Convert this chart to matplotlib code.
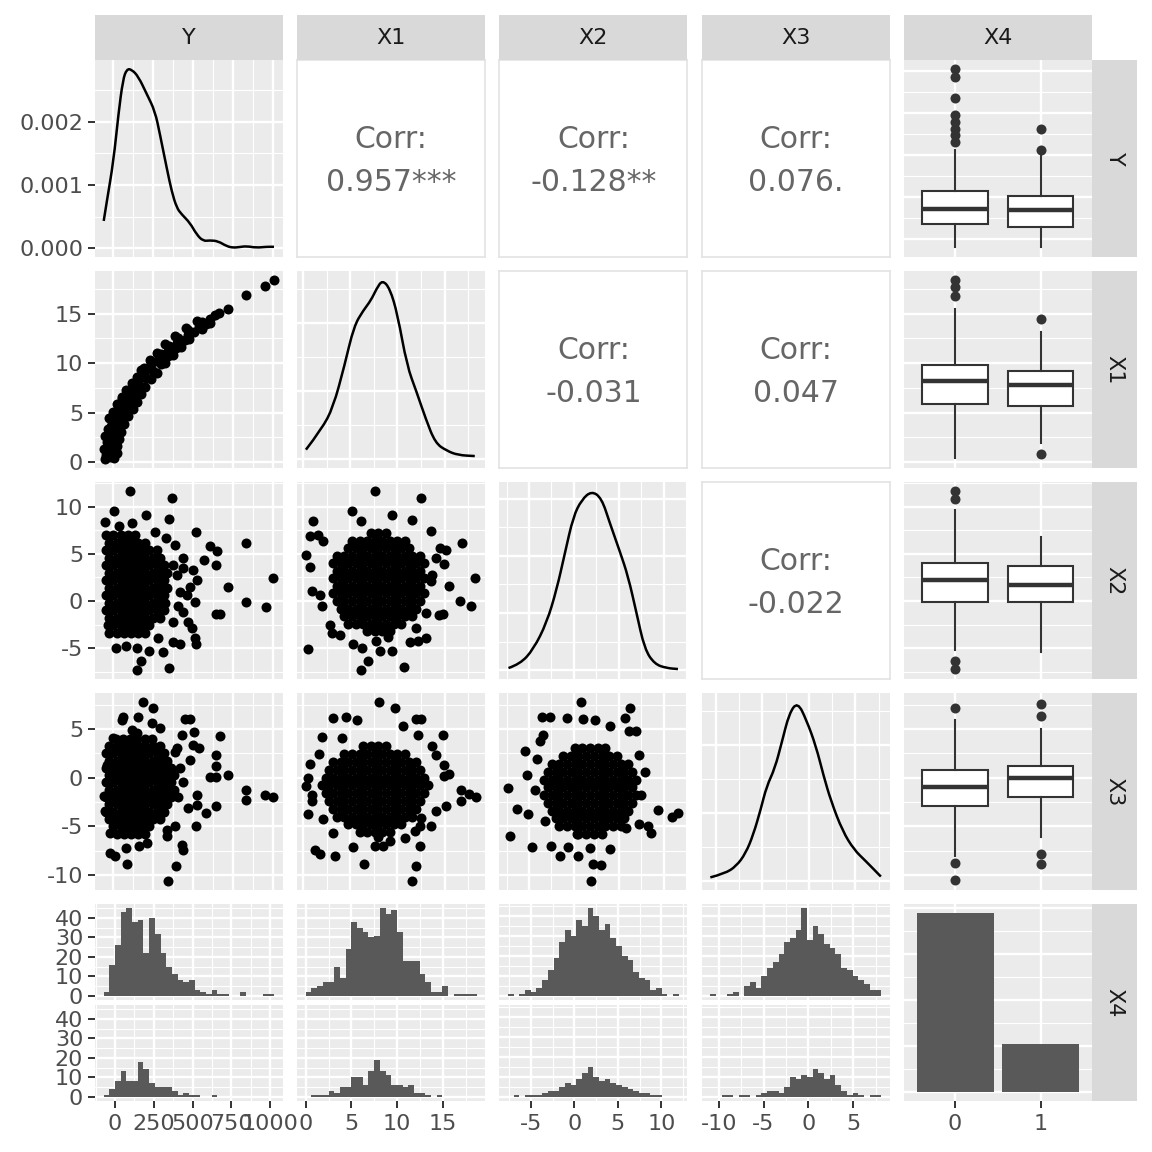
# ggpairs-style scatterplot matrix of Y, X1, X2, X3 and the factor X4
import matplotlib
matplotlib.use('Agg')
import matplotlib.pyplot as plt
from matplotlib.ticker import MultipleLocator, FixedLocator, FuncFormatter, NullLocator
from matplotlib.path import Path
from matplotlib.patches import PathPatch

plt.rcParams['font.family'] = ['DejaVu Sans']
plt.rcParams['axes.unicode_minus'] = False

# ---------------------------------------------------------------- data
var_names = ['Y', 'X1', 'X2', 'X3', 'X4']
var_lo = {'Y': -56, 'X1': 0.3, 'X2': -7.34, 'X3': -10.63}
var_hi = {'Y': 1010, 'X1': 18.4, 'X2': 11.7, 'X3': 7.77}

corr_text = {(0, 1): '0.957***', (0, 2): '-0.128**', (0, 3): '0.076.',
             (1, 2): '-0.031', (1, 3): '0.047', (2, 3): '-0.022'}

# density curves on the diagonal
dens_Y_x = [-55, -35, 6, 37, 65, 89, 120, 161, 214, 265, 296, 338, 369, 400, 431,
            483, 524, 565, 607, 658, 711, 752, 793, 835, 897, 959, 1007]
dens_Y_d = [0.00043, 0.00075, 0.00138, 0.00213, 0.00267, 0.00284, 0.00283, 0.00272,
            0.00244, 0.00217, 0.0018, 0.00127, 0.0009, 0.00064, 0.000535, 0.0004,
            0.000217, 0.00011, 0.000122, 0.00011, 0.00003, 0.000005, 0.000016,
            0.00003, 0.000005, 0.00002, 0.00002]
dens_X1_x = [0.32, 1.99, 3.2, 4.4, 5.4, 6.4, 7.2, 7.8, 8.42, 9.22, 10.02, 11.02,
             12.02, 13.02, 14.02, 15.23, 16.43, 18.2]
dens_X1_d = [0.0069, 0.0221, 0.0381, 0.0688, 0.0979, 0.1096, 0.1169, 0.1256, 0.132,
             0.1256, 0.1066, 0.0688, 0.0498, 0.0294, 0.0118, 0.0061, 0.0029, 0.0022]
dens_X2_x = [-7.28, -5.98, -4.5, -3.02, -1.91, -0.99, -0.06, 0.87, 1.98, 3.09, 4.01,
             5.12, 6.04, 6.97, 7.89, 9.0, 10.3, 11.6]
dens_X2_d = [0.0014, 0.0042, 0.0146, 0.0332, 0.0565, 0.0821, 0.1076, 0.1193, 0.1255,
             0.1205, 0.103, 0.0832, 0.0658, 0.0403, 0.0146, 0.0042, 0.0014, 0.0007]
dens_X3_x = [-10.61, -9.06, -7.83, -6.81, -5.99, -5.17, -4.56, -3.66, -2.92, -2.1,
             -1.21, -0.26, 0.76, 1.58, 2.4, 3.63, 4.86, 6.08, 7.75]
dens_X3_d = [0.0027, 0.0055, 0.0109, 0.0204, 0.0341, 0.0532, 0.0696, 0.0831, 0.1022,
             0.124, 0.132, 0.1186, 0.0995, 0.0776, 0.0586, 0.0368, 0.0231, 0.015, 0.0033]

# histogram counts (30 bins) for X4 = 0 and X4 = 1
hist_Y_0 = [2, 16, 26, 43, 45, 38, 39, 22, 40, 32, 22, 15, 11, 8, 7, 8, 3, 2, 1, 3,
            1, 1, 0, 0, 2, 0, 0, 0, 1, 1]
hist_Y_1 = [1, 4, 8, 13, 8, 8, 18, 14, 7, 5, 5, 5, 3, 1, 2, 1, 1, 0, 0, 1,
            0, 0, 0, 0, 0, 0, 0, 0, 0, 0]
hist_X1_0 = [2, 4, 5, 7, 7, 15, 9, 24, 38, 35, 33, 30, 31, 45, 42, 44, 33, 18, 18, 18,
             11, 7, 2, 2, 5, 0, 1, 1, 1, 1]
hist_X1_1 = [0, 1, 1, 1, 3, 2, 5, 5, 10, 10, 6, 13, 19, 13, 11, 6, 6, 5, 6, 2,
             2, 1, 0, 1, 0, 0, 0, 0, 0, 0]
hist_X2_0 = [1, 0, 1, 3, 2, 4, 8, 13, 19, 27, 33, 30, 38, 35, 44, 40, 33, 36, 29, 25,
             20, 18, 12, 9, 8, 3, 4, 1, 0, 1]
hist_X2_1 = [0, 1, 0, 1, 1, 1, 2, 3, 3, 5, 7, 6, 9, 12, 15, 10, 8, 9, 7, 6,
             5, 4, 3, 2, 2, 1, 1, 0, 0, 0]
hist_X3_0 = [1, 0, 0, 1, 2, 0, 5, 7, 4, 10, 14, 17, 21, 27, 29, 33, 44, 28, 35, 31,
             26, 24, 21, 14, 13, 10, 8, 6, 3, 3]
hist_X3_1 = [0, 0, 1, 1, 0, 1, 1, 0, 1, 2, 3, 3, 2, 5, 10, 9, 11, 10, 14, 12,
             9, 11, 6, 3, 1, 2, 1, 0, 1, 1]

# X4 bar chart
x4_levels = ['0', '1']
x4_counts = [389, 105]

# boxplots of each variable by X4: [X4=0, X4=1]
box_lo = {'Y': [-47, -51], 'X1': [0.37, 1.88], 'X2': [-5.2, -5.43], 'X3': [-8.08, -6.14]}
box_q1 = {'Y': [86, 72], 'X1': [5.9, 5.66], 'X2': [-0.11, -0.11], 'X3': [-2.88, -1.96]}
box_med = {'Y': [175, 171], 'X1': [8.14, 7.81], 'X2': [2.23, 1.7], 'X3': [-0.94, -0.02]}
box_q3 = {'Y': [285, 254], 'X1': [9.85, 9.18], 'X2': [4.03, 3.7], 'X3': [0.8, 1.2]}
box_hi = {'Y': [526, 491], 'X1': [15.45, 13.1], 'X2': [9.67, 6.8], 'X3': [5.9, 4.98]}
box_out = {'Y': [[575, 615, 655, 694, 734, 839, 961, 1010], [526, 655]],
           'X1': [[16.8, 17.7, 18.4], [0.78, 14.45]],
           'X2': [[10.8, 11.7, -6.4, -7.24], []],
           'X3': [[7.2, -8.8, -10.53], [6.3, 7.6, -7.9, -8.9]]}

# scatter points: (x, y)
pts_Y_X1 = [(-45, 0.3), (-15, 0.5), (-40, 0.7), (-25, 1.0), (5, 1.2), (-40, 1.4),
            (-15, 1.7), (-35, 2.0), (15, 2.1), (-5, 2.4), (-30, 2.7), (20, 2.9),
            (0, 3.2), (35, 3.4), (-10, 3.6), (20, 3.9), (50, 4.1), (0, 4.3),
            (40, 4.6), (75, 4.8), (25, 5.0), (60, 5.3), (100, 5.5), (45, 5.7),
            (80, 6.0), (120, 6.2), (60, 6.4), (100, 6.7), (145, 7.0), (90, 7.1),
            (125, 7.4), (170, 7.7), (130, 7.9), (160, 8.2), (210, 8.5), (150, 8.6),
            (195, 8.9), (250, 9.2), (180, 9.3), (230, 9.6), (300, 9.9), (250, 10.1),
            (290, 10.4), (345, 10.7), (300, 10.9), (345, 11.2), (395, 11.5),
            (350, 11.7), (400, 12.0), (450, 12.3), (410, 12.5), (470, 12.8),
            (510, 13.1), (470, 13.3), (540, 13.6), (580, 13.9), (560, 14.2),
            (610, 14.5), (640, 14.9), (665, 15.1), (720, 15.5), (835, 16.9),
            (948, 17.8), (1010, 18.4),
            (10, 0.4), (30, 0.9), (-55, 1.3), (25, 1.6), (40, 2.3), (-45, 2.6),
            (55, 3.0), (-30, 3.3), (70, 3.8), (-20, 4.4), (95, 4.6), (5, 5.1),
            (125, 5.4), (30, 5.9), (150, 6.1), (60, 6.6), (175, 6.9), (85, 7.3),
            (205, 7.6), (120, 8.0), (240, 8.4), (280, 9.0), (195, 9.5), (330, 10.0),
            (235, 10.3), (375, 10.8), (280, 11.0), (430, 11.6), (330, 11.9),
            (480, 12.4), (390, 12.7), (560, 13.4), (460, 13.5), (610, 14.0),
            (530, 14.3)]

core_Y_X2 = [(7.0, [-40, 5, 50, 95, 140]),
             (6.2, [-20, 25, 70, 115, 160, 205]),
             (5.4, [-40, 5, 50, 95, 140, 185, 230, 275]),
             (4.6, [-20, 25, 70, 115, 160, 205, 250, 295]),
             (3.8, [-40, 5, 50, 95, 140, 185, 230, 275, 320]),
             (3.0, [-20, 25, 70, 115, 160, 205, 250, 295, 340]),
             (2.2, [-40, 5, 50, 95, 140, 185, 230, 275, 320]),
             (1.4, [-20, 25, 70, 115, 160, 205, 250, 295, 340]),
             (0.6, [-40, 5, 50, 95, 140, 185, 230, 275, 320]),
             (-0.2, [-20, 25, 70, 115, 160, 205, 250, 295, 330]),
             (-1.0, [-40, 5, 50, 95, 140, 185, 230, 275, 320]),
             (-1.8, [-20, 25, 70, 115, 160, 205, 250, 295]),
             (-2.6, [-30, 5, 50, 95, 140, 185, 230]),
             (-3.4, [-20, 25, 70, 115, 160, 205])]
out_Y_X2 = [(110, 11.7), (373, 10.9), (11, 9.57), (209, 9.15), (354, 8.72), (-50, 8.44),
            (520, 7.37), (835, 6.14), (611, 5.88), (652, 5.32), (644, 3.83), (570, 4.36),
            (1004, 2.41), (721, 1.46), (835, -0.14), (955, -0.67), (644, -1.42),
            (673, -1.42), (503, 3.3), (524, 2.23), (483, 1.52), (462, 0.64), (514, -0.07),
            (437, -1.14), (472, -2.2), (493, -2.9), (514, -3.97), (520, -4.6), (420, -4.6),
            (375, -4.33), (317, -5.46), (230, -5.32), (152, -5.03), (85, -4.75),
            (23, -5.03), (176, -6.38), (152, -7.34), (354, -7.1), (286, -3.97),
            (379, -2.2), (379, 3.83), (441, 4.54), (389, 5.96), (332, 6.67), (265, 7.37),
            (120, 8.3), (40, 8.0), (400, 2.8), (420, 1.0), (410, -0.5), (440, 3.5)]

core_Y_X3 = [(4.0, [20, 65, 110, 155, 200, 245]),
             (3.25, [-20, 25, 70, 115, 160, 205, 250, 295]),
             (2.5, [-40, 5, 50, 95, 140, 185, 230, 275, 320]),
             (1.75, [-20, 25, 70, 115, 160, 205, 250, 295, 340]),
             (1.0, [-40, 5, 50, 95, 140, 185, 230, 275, 320, 365]),
             (0.25, [-20, 25, 70, 115, 160, 205, 250, 295, 340, 385]),
             (-0.5, [-40, 5, 50, 95, 140, 185, 230, 275, 320, 365]),
             (-1.25, [-20, 25, 70, 115, 160, 205, 250, 295, 340, 385]),
             (-2.0, [-40, 5, 50, 95, 140, 185, 230, 275, 320, 365]),
             (-2.75, [-20, 25, 70, 115, 160, 205, 250, 295, 340]),
             (-3.5, [-40, 5, 50, 95, 140, 185, 230, 275, 320]),
             (-4.25, [-20, 25, 70, 115, 160, 205, 250, 295]),
             (-5.0, [5, 50, 95, 140, 185, 230]),
             (-5.75, [25, 70, 115, 160, 200])]
out_Y_X3 = [(193, 7.77), (255, 7.1), (68, 6.24), (60, 5.9), (161, 6.24), (452, 5.97),
            (483, 5.97), (507, 4.7), (431, 4.37), (673, 4.26), (6, 4.03), (503, 3.34),
            (539, 3.0), (648, 2.32), (389, 2.66), (483, 1.81), (648, 1.2), (721, 0.28),
            (611, 0.04), (644, 0.04), (835, -1.26), (835, -2.35), (948, -1.77),
            (1004, -2.0), (524, -1.77), (524, -2.79), (648, -2.89), (582, -3.64),
            (472, -3.13), (520, -5.0), (389, -5.0), (338, -6.03), (338, -5.35),
            (431, -6.88), (441, -7.39), (396, -9.1), (348, -10.63), (89, -8.93),
            (85, -7.22), (-14, -7.73), (17, -8.08), (168, -7.06), (214, -6.71),
            (-14, -5.69), (-50, -3.48), (-52, -1.94), (-35, 1.3), (-4, 2.66), (296, 5.05),
            (245, 5.56), (152, 4.54), (120, 4.9), (420, 1.0), (440, -0.5), (410, -2.0),
            (400, 3.0)]

core_X1_X2 = [(7.2, [7.2, 8.0, 8.8]),
              (6.4, [5.2, 6.0, 6.8, 7.6, 8.4, 9.2, 10.0, 10.8]),
              (5.6, [4.8, 5.6, 6.4, 7.2, 8.0, 8.8, 9.6, 10.4, 11.2]),
              (4.8, [3.6, 4.4, 5.2, 6.0, 6.8, 7.6, 8.4, 9.2, 10.0, 10.8, 11.6, 12.4]),
              (4.0, [3.2, 4.0, 4.8, 5.6, 6.4, 7.2, 8.0, 8.8, 9.6, 10.4, 11.2, 12.0, 12.8]),
              (3.2, [3.6, 4.4, 5.2, 6.0, 6.8, 7.6, 8.4, 9.2, 10.0, 10.8, 11.6, 12.4]),
              (2.4, [3.2, 4.0, 4.8, 5.6, 6.4, 7.2, 8.0, 8.8, 9.6, 10.4, 11.2, 12.0, 12.8]),
              (1.6, [3.6, 4.4, 5.2, 6.0, 6.8, 7.6, 8.4, 9.2, 10.0, 10.8, 11.6, 12.4]),
              (0.8, [3.2, 4.0, 4.8, 5.6, 6.4, 7.2, 8.0, 8.8, 9.6, 10.4, 11.2, 12.0, 12.8]),
              (0.0, [3.6, 4.4, 5.2, 6.0, 6.8, 7.6, 8.4, 9.2, 10.0, 10.8, 11.6, 12.4]),
              (-0.8, [4.0, 4.8, 5.6, 6.4, 7.2, 8.0, 8.8, 9.6, 10.4, 11.2, 12.0]),
              (-1.6, [4.4, 5.2, 6.0, 6.8, 7.6, 8.4, 9.2, 10.0, 10.8, 11.6]),
              (-2.4, [4.8, 5.6, 6.4, 7.2, 8.0, 8.8, 9.6, 10.4]),
              (-3.2, [6.8, 7.6, 8.4, 9.2])]
out_X1_X2 = [(7.61, 11.67), (12.46, 10.96), (5.16, 9.54), (9.48, 9.11), (11.58, 8.65),
             (1.05, 8.54), (6.11, 8.54), (13.58, 7.48), (0.7, 6.88), (1.64, 6.99),
             (16.85, 6.17), (2.17, 6.35), (14.53, 5.64), (15.17, 5.46), (0.35, 4.93),
             (14.11, 4.57), (14.99, 3.94), (0.7, 3.59), (18.25, 2.45), (15.44, 1.56),
             (0.95, 1.03), (1.82, 0.6), (16.64, -0.03), (17.8, -0.56), (2.0, -0.56),
             (14.46, -1.46), (14.88, -1.38), (13.06, -1.28), (3.05, -3.4), (3.93, -3.58),
             (0.59, -5.07), (5.33, -4.57), (6.21, -5.0), (8.21, -5.29), (9.48, -5.35),
             (6.91, -6.35), (6.11, -7.3), (10.67, -7.05), (11.3, -4.36), (12.18, -4.22),
             (12.99, -3.94), (12.0, -2.87), (9.02, -3.86), (7.72, -4.22), (2.88, -2.52),
             (13.58, 2.1), (13.7, 2.8)]

core_X1_X3 = [(3.2, [6.4, 7.2, 8.0, 8.8]),
              (2.4, [4.4, 5.2, 6.0, 6.8, 7.6, 8.4, 9.2, 10.0, 10.8]),
              (1.6, [3.2, 4.0, 4.8, 5.6, 6.4, 7.2, 8.0, 8.8, 9.6, 10.4, 11.2, 12.0]),
              (0.8, [2.8, 3.6, 4.4, 5.2, 6.0, 6.8, 7.6, 8.4, 9.2, 10.0, 10.8, 11.6, 12.4]),
              (0.0, [2.4, 3.2, 4.0, 4.8, 5.6, 6.4, 7.2, 8.0, 8.8, 9.6, 10.4, 11.2, 12.0,
                     12.8]),
              (-0.8, [2.0, 2.8, 3.6, 4.4, 5.2, 6.0, 6.8, 7.6, 8.4, 9.2, 10.0, 10.8, 11.6,
                      12.4, 13.2]),
              (-1.6, [2.4, 3.2, 4.0, 4.8, 5.6, 6.4, 7.2, 8.0, 8.8, 9.6, 10.4, 11.2, 12.0,
                      12.8]),
              (-2.4, [2.8, 3.6, 4.4, 5.2, 6.0, 6.8, 7.6, 8.4, 9.2, 10.0, 10.8, 11.6, 12.4]),
              (-3.2, [3.2, 4.0, 4.8, 5.6, 6.4, 7.2, 8.0, 8.8, 9.6, 10.4, 11.2, 12.0]),
              (-4.0, [3.6, 4.4, 5.2, 6.0, 6.8, 7.6, 8.4, 9.2, 10.0, 10.8, 11.6]),
              (-4.8, [4.8, 5.6, 6.4, 7.2, 8.0, 8.8, 9.6, 10.4]),
              (-5.6, [6.0, 6.8, 7.6, 8.4, 9.2])]
out_X1_X3 = [(8.07, 7.74), (9.72, 7.2), (3.16, 6.17), (4.56, 6.27), (5.75, 5.93),
             (12.0, 6.03), (12.53, 6.03), (10.6, 5.25), (14.81, 4.33), (12.18, 4.4),
             (2.0, 4.13), (4.1, 4.06), (13.69, 3.21), (14.11, 2.35), (14.99, 1.27),
             (15.51, 0.38), (14.9, 0.15), (1.75, 2.42), (0.77, 1.4), (0.59, -0.03),
             (0.35, -0.88), (0.95, -1.74), (0.95, -2.42), (0.59, -3.78), (16.75, -1.23),
             (17.62, -1.67), (18.33, -2.0), (16.75, -2.4), (15.17, -2.92), (14.11, -3.44),
             (13.58, -4.97), (12.53, -4.12), (12.35, -4.97), (11.83, -5.48),
             (10.77, -6.17), (12.35, -7.02), (12.0, -9.06), (11.58, -10.59), (6.46, -8.9),
             (5.33, -7.12), (3.4, -8.04), (1.3, -7.46), (1.82, -7.87), (3.22, -5.65),
             (2.17, -4.29), (7.61, -7.01), (8.49, -7.01), (8.0, -6.1), (9.19, -6.5)]

core_X2_X3 = [(3.0, [0.1, 0.95, 1.8, 2.65, 3.5]),
              (2.2, [-1.2, -0.3, 0.5, 1.4, 2.2, 3.1, 3.9, 4.8]),
              (1.4, [-2.45, -1.6, -0.75, 0.1, 0.95, 1.8, 2.65, 3.5, 4.35, 5.2, 6.05]),
              (0.6, [-2.9, -2.0, -1.2, -0.3, 0.5, 1.4, 2.2, 3.1, 3.9, 4.8, 5.6, 6.5]),
              (-0.2, [-3.3, -2.45, -1.6, -0.75, 0.1, 0.95, 1.8, 2.65, 3.5, 4.35, 5.2, 6.05,
                      6.9]),
              (-1.0, [-2.9, -2.0, -1.2, -0.3, 0.5, 1.4, 2.2, 3.1, 3.9, 4.8, 5.6, 6.5]),
              (-1.8, [-3.3, -2.45, -1.6, -0.75, 0.1, 0.95, 1.8, 2.65, 3.5, 4.35, 5.2, 6.05,
                      6.9]),
              (-2.6, [-2.9, -2.0, -1.2, -0.3, 0.5, 1.4, 2.2, 3.1, 3.9, 4.8, 5.6, 6.5]),
              (-3.4, [-2.45, -1.6, -0.75, 0.1, 0.95, 1.8, 2.65, 3.5, 4.35, 5.2, 6.05]),
              (-4.2, [-2.0, -1.2, -0.3, 0.5, 1.4, 2.2, 3.1, 3.9, 4.8, 5.6]),
              (-5.0, [-1.6, -0.75, 0.1, 0.95, 1.8, 2.65, 3.5, 4.35, 5.2]),
              (-5.8, [0.5, 1.4, 2.2, 3.1])]
out_X2_X3 = [(0.85, 7.74), (6.28, 7.2), (5.65, 6.1), (-3.58, 6.27), (-2.66, 6.27),
             (-0.81, 6.1), (1.03, 6.03), (2.33, 5.93), (-3.4, 4.4), (-3.77, 3.72),
             (-5.43, 2.7), (-4.14, 1.94), (-5.18, 0.31), (-7.28, -1.05), (-4.32, -1.23),
             (-6.36, -3.27), (-5.07, -3.78), (-7.1, -5.99), (-3.22, -4.46), (-4.69, -7.12),
             (-2.58, -7.02), (-1.55, -8.04), (-0.63, -7.12), (0.48, -8.04), (1.77, -7.19),
             (2.14, -8.9), (3.07, -8.96), (4.07, -7.36), (1.96, -10.6), (8.61, -5.65),
             (8.3, -5.0), (9.35, -3.37), (10.94, -4.05), (11.57, -3.61), (7.98, 0.58),
             (7.5, -1.74), (6.95, 4.74), (6.2, 4.74), (3.99, 5.26), (7.3, 2.35),
             (7.3, -4.8), (5.84, -5.14), (0.3, -5.8)]

dens = {'Y': (dens_Y_x, dens_Y_d), 'X1': (dens_X1_x, dens_X1_d),
        'X2': (dens_X2_x, dens_X2_d), 'X3': (dens_X3_x, dens_X3_d)}
hists = {'Y': (hist_Y_0, hist_Y_1), 'X1': (hist_X1_0, hist_X1_1),
         'X2': (hist_X2_0, hist_X2_1), 'X3': (hist_X3_0, hist_X3_1)}
scatters = {('Y', 'X1'): (pts_Y_X1, []), ('Y', 'X2'): (out_Y_X2, core_Y_X2),
            ('Y', 'X3'): (out_Y_X3, core_Y_X3), ('X1', 'X2'): (out_X1_X2, core_X1_X2),
            ('X1', 'X3'): (out_X1_X3, core_X1_X3), ('X2', 'X3'): (out_X2_X3, core_X2_X3)}

# ---------------------------------------------------------------- style
W = H = 1152
GREY_BG = '#EBEBEB'
TICK_KW = dict(labelsize=16, labelcolor='#4D4D4D', color='#333333',
               length=5, width=1.4, pad=3.5)
var_step = {'Y': 250, 'X1': 5, 'X2': 5, 'X3': 5}
dens_step = {'Y': 0.001, 'X1': 0.05, 'X2': 0.04, 'X3': 0.05}

col_left = [95 + 202.2 * i for i in range(5)]
row_top = [60 + 211 * j for j in range(5)]
PW, PH = 188, 197

fig = plt.figure(figsize=(11.52, 11.52), dpi=100)


def add_ax(left, top, w, h):
    return fig.add_axes([left / W, 1 - (top + h) / H, w / W, h / H])


def pad(lo, hi, f=0.05):
    d = (hi - lo) * f
    return lo - d, hi + d


fmt_g = FuncFormatter(lambda v, p: '%g' % round(v, 6))


def smooth_line(ax, xs, ys, **kw):
    # quadratic curve through segment midpoints, the read points act as controls
    verts = [(xs[0], ys[0])]
    codes = [Path.MOVETO]
    for k in range(1, len(xs) - 1):
        verts += [(xs[k], ys[k]), ((xs[k] + xs[k + 1]) / 2, (ys[k] + ys[k + 1]) / 2)]
        codes += [Path.CURVE3, Path.CURVE3]
    verts.append((xs[-1], ys[-1]))
    codes.append(Path.LINETO)
    ax.add_patch(PathPatch(Path(verts, codes), fill=False, **kw))


def gg_panel(ax, xlim, ylim, xstep, ystep, left=False, bottom=False, yfmt=None):
    ax.set_facecolor(GREY_BG)
    for s in ax.spines.values():
        s.set_visible(False)
    ax.set_xlim(xlim)
    ax.set_ylim(ylim)
    if xstep is not None:
        ax.xaxis.set_major_locator(MultipleLocator(xstep))
        ax.xaxis.set_minor_locator(MultipleLocator(xstep / 2))
    if ystep is not None:
        ax.yaxis.set_major_locator(MultipleLocator(ystep))
        ax.yaxis.set_minor_locator(MultipleLocator(ystep / 2))
    ax.xaxis.set_major_formatter(fmt_g)
    ax.yaxis.set_major_formatter(yfmt if yfmt else fmt_g)
    ax.grid(which='major', color='white', lw=1.7)
    ax.grid(which='minor', color='white', lw=0.85)
    ax.set_axisbelow(True)
    ax.tick_params(which='minor', length=0)
    ax.tick_params(axis='x', which='major', bottom=bottom, labelbottom=bottom, **TICK_KW)
    ax.tick_params(axis='y', which='major', left=left, labelleft=left, **TICK_KW)
    ax.tick_params(axis='x', pad=4)


def strip(left, top, w, h, label, rot=0):
    ax = add_ax(left, top, w, h)
    ax.set_facecolor('#D9D9D9')
    for s in ax.spines.values():
        s.set_visible(False)
    ax.set_xticks([])
    ax.set_yticks([])
    ax.text(0.5, 0.5, label, transform=ax.transAxes, ha='center', va='center',
            rotation=rot, fontsize=16, color='#1A1A1A')


def hist_edges(v):
    lo, hi = var_lo[v], var_hi[v]
    bw = (hi - lo) / 29
    return [lo - bw / 2 + k * bw for k in range(31)], bw


# ---------------------------------------------------------------- panels
for i, rv in enumerate(var_names):
    for j, cv in enumerate(var_names):
        left, top = col_left[j], row_top[i]
        show_l, show_b = (j == 0), (i == 4)

        if i < 4 and j < 4 and i == j:
            ax = add_ax(left, top, PW, PH)
            xs, ds = dens[cv]
            dmax = max(ds)
            gg_panel(ax, pad(var_lo[cv], var_hi[cv]), (-0.05 * dmax, 1.05 * dmax),
                     var_step[cv], dens_step[cv], left=show_l,
                     yfmt=FuncFormatter(lambda v, p: '%.3f' % v))
            smooth_line(ax, xs, ds, edgecolor='black', lw=1.8)

        elif i < j and j < 4:
            ax = add_ax(left, top, PW, PH)
            ax.set_facecolor('white')
            for s in ax.spines.values():
                s.set_color('#E3E3E3')
                s.set_linewidth(1.2)
            ax.set_xticks([])
            ax.set_yticks([])
            ax.text(0.5, 0.595, 'Corr:', transform=ax.transAxes, ha='center',
                    va='center', fontsize=21.5, color='#666666')
            ax.text(0.5, 0.38, corr_text[(i, j)], transform=ax.transAxes, ha='center',
                    va='center', fontsize=21.5, color='#666666')

        elif i > j and i < 4:
            ax = add_ax(left, top, PW, PH)
            gg_panel(ax, pad(var_lo[cv], var_hi[cv]), pad(var_lo[rv], var_hi[rv]),
                     var_step[cv], var_step[rv], left=show_l)
            outl, core = scatters[(cv, rv)]
            xs = [p[0] for p in outl]
            ys = [p[1] for p in outl]
            for lev, vals in core:
                xs += vals
                ys += [lev] * len(vals)
            ax.scatter(xs, ys, s=52, c='black', linewidths=0, zorder=3)

        elif j == 4 and i < 4:
            ax = add_ax(left, top, PW, PH)
            gg_panel(ax, (0.4, 2.6), pad(var_lo[rv], var_hi[rv]), None, var_step[rv])
            ax.xaxis.set_major_locator(FixedLocator([1, 2]))
            ax.xaxis.set_minor_locator(NullLocator())
            stats = [dict(med=box_med[rv][k], q1=box_q1[rv][k], q3=box_q3[rv][k],
                          whislo=box_lo[rv][k], whishi=box_hi[rv][k],
                          fliers=box_out[rv][k]) for k in range(2)]
            ax.bxp(stats, positions=[1, 2], widths=0.77, patch_artist=True,
                   showcaps=False, manage_ticks=False,
                   boxprops=dict(facecolor='white', edgecolor='#333333', linewidth=1.5),
                   medianprops=dict(color='#333333', linewidth=3.2),
                   whiskerprops=dict(color='#333333', linewidth=1.5),
                   flierprops=dict(marker='o', markerfacecolor='#333333',
                                   markeredgecolor='none', markersize=7.2))

        elif i == 4 and j < 4:
            edges, bw = hist_edges(cv)
            centers = [e + bw / 2 for e in edges[:-1]]
            c0, c1 = hists[cv]
            cmax = max(max(c0), max(c1))
            fh = (PH - 5) / 2
            for k, counts in enumerate((c0, c1)):
                ax = add_ax(left, top + k * (fh + 5), PW, fh)
                gg_panel(ax, pad(edges[0], edges[-1]), (-0.05 * cmax, 1.05 * cmax),
                         var_step[cv], 10, left=show_l, bottom=(k == 1))
                ax.bar(centers, counts, width=bw, color='#595959', linewidth=0)

        else:
            ax = add_ax(left, top, PW, PH)
            cmax = max(x4_counts)
            gg_panel(ax, (0.4, 2.6), (-0.05 * cmax, 1.05 * cmax), None, 100,
                     bottom=True)
            ax.xaxis.set_major_locator(FixedLocator([1, 2]))
            ax.xaxis.set_minor_locator(NullLocator())
            ax.xaxis.set_major_formatter(
                FuncFormatter(lambda v, p: x4_levels[int(round(v)) - 1]))
            ax.bar([1, 2], x4_counts, width=0.9, color='#595959', linewidth=0)

# strips
for j, v in enumerate(var_names):
    strip(col_left[j], 15, PW, 45, v)
for i, v in enumerate(var_names):
    strip(1092, row_top[i], 45, PH, v, rot=270)

fig.savefig('out.png', dpi=100, facecolor='white')
